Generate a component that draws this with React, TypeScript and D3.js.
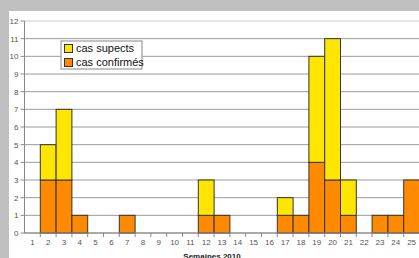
import * as d3 from "d3";

const weeks: string[] = d3.range(1, 26).map(String);
const confirmes: number[] = [0, 3, 3, 1, 0, 0, 1, 0, 0, 0, 0, 1, 1, 0, 0, 0, 1, 1, 4, 3, 1, 0, 1, 1, 3];
const suspects: number[] = [0, 2, 4, 0, 0, 0, 0, 0, 0, 0, 0, 2, 0, 0, 0, 0, 1, 0, 6, 8, 2, 0, 0, 0, 0];
const yTicks: number[] = d3.range(0, 13);

const W = 419;
const H = 258;
const margin = { top: 21, right: 0, bottom: 25, left: 24.5 };

const App = () => {
  const x = d3.scaleBand().domain(weeks).range([margin.left, margin.left + 25 * 15.8]).padding(0);
  const y = d3.scaleLinear().domain([0, 12]).range([H - margin.bottom, margin.top]);

  const stack = d3.stack<any>().keys(["conf", "susp"])(
    weeks.map((w, i) => ({ week: w, conf: confirmes[i], susp: suspects[i] }))
  );
  const colors = ["#ff8a00", "#ffe600"];
  const font = "Liberation Sans, Arial, sans-serif";

  return (
    <svg width={W} height={H} style={{ position: "absolute", left: 0, top: 0 }}>
      <rect x={0} y={0} width={W} height={H} fill="#c0c0c0" />
      <rect x={9} y={11} width={W - 9} height={H - 11} fill="#ffffff" />
      {yTicks.map((t) => (
        <g key={t}>
          <line x1={x.range()[0]} x2={W} y1={y(t)} y2={y(t)} stroke={t === 12 ? "#c8c8e0" : "#9a9a9a"} strokeWidth={1} />
          <line x1={x.range()[0] - 4} x2={x.range()[0]} y1={y(t)} y2={y(t)} stroke="#888" />
          <text x={x.range()[0] - 6} y={y(t) + 3} fontSize={8} fill="#555" textAnchor="end" fontFamily={font}>{t}</text>
        </g>
      ))}
      {stack.map((layer, li) =>
        layer.map((d, i) =>
          d[1] - d[0] > 0 ? (
            <rect key={`${li}-${i}`} x={x(weeks[i])} y={y(d[1])} width={x.bandwidth()} height={y(d[0]) - y(d[1])}
              fill={colors[li]} stroke="#333" strokeWidth={1} />
          ) : null
        )
      )}
      <line x1={x.range()[0]} x2={x.range()[0]} y1={y(12)} y2={y(0)} stroke="#888" />
      <line x1={x.range()[0]} x2={W} y1={y(0)} y2={y(0)} stroke="#888" />
      {weeks.map((w) => (
        <g key={w}>
          <line x1={(x(w) as number) + x.bandwidth()} x2={(x(w) as number) + x.bandwidth()} y1={y(0)} y2={y(0) + 4} stroke="#888" />
          <text x={(x(w) as number) + x.bandwidth() / 2} y={y(0) + 12} fontSize={8} fill="#555" textAnchor="middle" fontFamily={font}>{w}</text>
        </g>
      ))}
      <text x={212} y={H + 1} fontSize={8} fontWeight="bold" fill="#222" textAnchor="middle" fontFamily={font}>Semaines 2010</text>
      <g transform="translate(61,41)">
        <rect x={0} y={0} width={81} height={28} fill="#fff" stroke="#888" />
        <rect x={3.5} y={3.5} width={8} height={8} fill={colors[1]} stroke="#333" />
        <text x={15} y={11} fontSize={11} fill="#111" fontFamily={font}>cas supects</text>
        <rect x={3.5} y={17.5} width={8} height={8} fill={colors[0]} stroke="#333" />
        <text x={15} y={25} fontSize={11} fill="#111" fontFamily={font}>cas confirmés</text>
      </g>
    </svg>
  );
};

export default App;
